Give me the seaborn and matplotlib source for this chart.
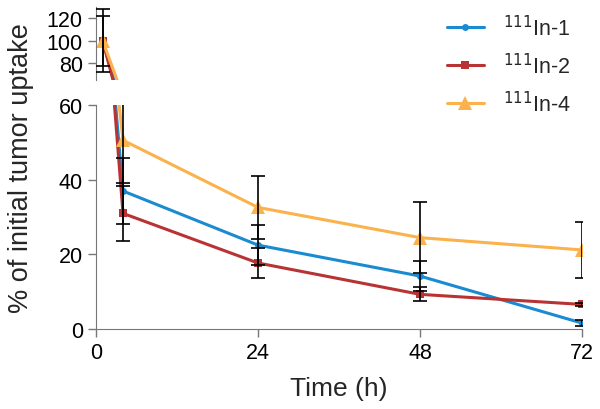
import numpy as np
import pandas as pd
import seaborn as sns
import matplotlib.pyplot as plt

# data
time_h = [1, 4, 24, 48, 72]
series_names = ['$^{111}$In-1', '$^{111}$In-2', '$^{111}$In-4']
in1_mean = [100, 37.0, 22.5, 14.2, 1.6]
in1_err = [28, 8.8, 5.4, 4.1, 0.8]
in2_mean = [100, 31.0, 17.7, 9.3, 6.6]
in2_err = [22, 7.4, 4.0, 1.9, 0.5]
in4_mean = [100, 50.6, 32.6, 24.5, 21.2]
in4_err = [np.nan, 11.5, 8.5, 9.6, 7.4]

colors = ['#1a8bd1', '#b83333', '#fbb24c']
markers = ['o', 's', '^']
msizes = [5, 6, 10]

df = pd.DataFrame({
    'time': time_h * 3,
    'uptake': in1_mean + in2_mean + in4_mean,
    'err': in1_err + in2_err + in4_err,
    'series': [s for s in series_names for _ in time_h],
})

sns.set_style('ticks')
plt.rcParams['font.family'] = ['Liberation Sans', 'DejaVu Sans']
axis_grey = '#777777'

fig = plt.figure(figsize=(6, 4.1), dpi=100)
ax_top = fig.add_axes([0.16, 0.802, 0.81, 0.178])
ax_bot = fig.add_axes([0.16, 0.195, 0.81, 0.546])

for ax in (ax_top, ax_bot):
    for name, col, mk, ms in zip(series_names, colors, markers, msizes):
        sub = df[df['series'] == name]
        sns.lineplot(data=sub, x='time', y='uptake', ax=ax, color=col, marker=mk,
                     markersize=ms, markeredgewidth=0, linewidth=2.2, label=name,
                     legend=False, clip_on=True)
    for name in series_names:
        sub = df[(df['series'] == name) & df['err'].notna()]
        ax.errorbar(sub['time'], sub['uptake'], yerr=sub['err'], fmt='none',
                    ecolor='black', elinewidth=1.2, capsize=5, capthick=1.2, zorder=5)
    ax.set_xlim(0, 72)
    ax.set_xlabel('')
    ax.set_ylabel('')
    sns.despine(ax=ax)
    for sp in ('left', 'bottom'):
        ax.spines[sp].set_color(axis_grey)
    ax.tick_params(colors=axis_grey, labelcolor='black', labelsize=15.5, length=6, width=1)

ax_top.set_ylim(65, 130)
ax_top.set_yticks([80, 100, 120])
ax_top.spines['bottom'].set_visible(False)
ax_top.tick_params(axis='x', bottom=False, labelbottom=False)

ax_bot.set_ylim(0, 60)
ax_bot.set_yticks([0, 20, 40, 60])
ax_bot.set_xticks([0, 24, 48, 72])
ax_bot.set_xlabel('Time (h)', fontsize=19, labelpad=9)

fig.text(0.035, 0.59, '% of initial tumor uptake', rotation=90, ha='center', va='center',
         fontsize=19.5)

handles, labels = ax_top.get_legend_handles_labels()
fig.legend(handles[:3], labels[:3], loc='upper left', bbox_to_anchor=(0.745, 0.962),
           frameon=False, fontsize=15.5, labelspacing=0.6, handlelength=1.7,
           handletextpad=0.9, borderpad=0, borderaxespad=0)

fig.savefig('out.png', dpi=100)
